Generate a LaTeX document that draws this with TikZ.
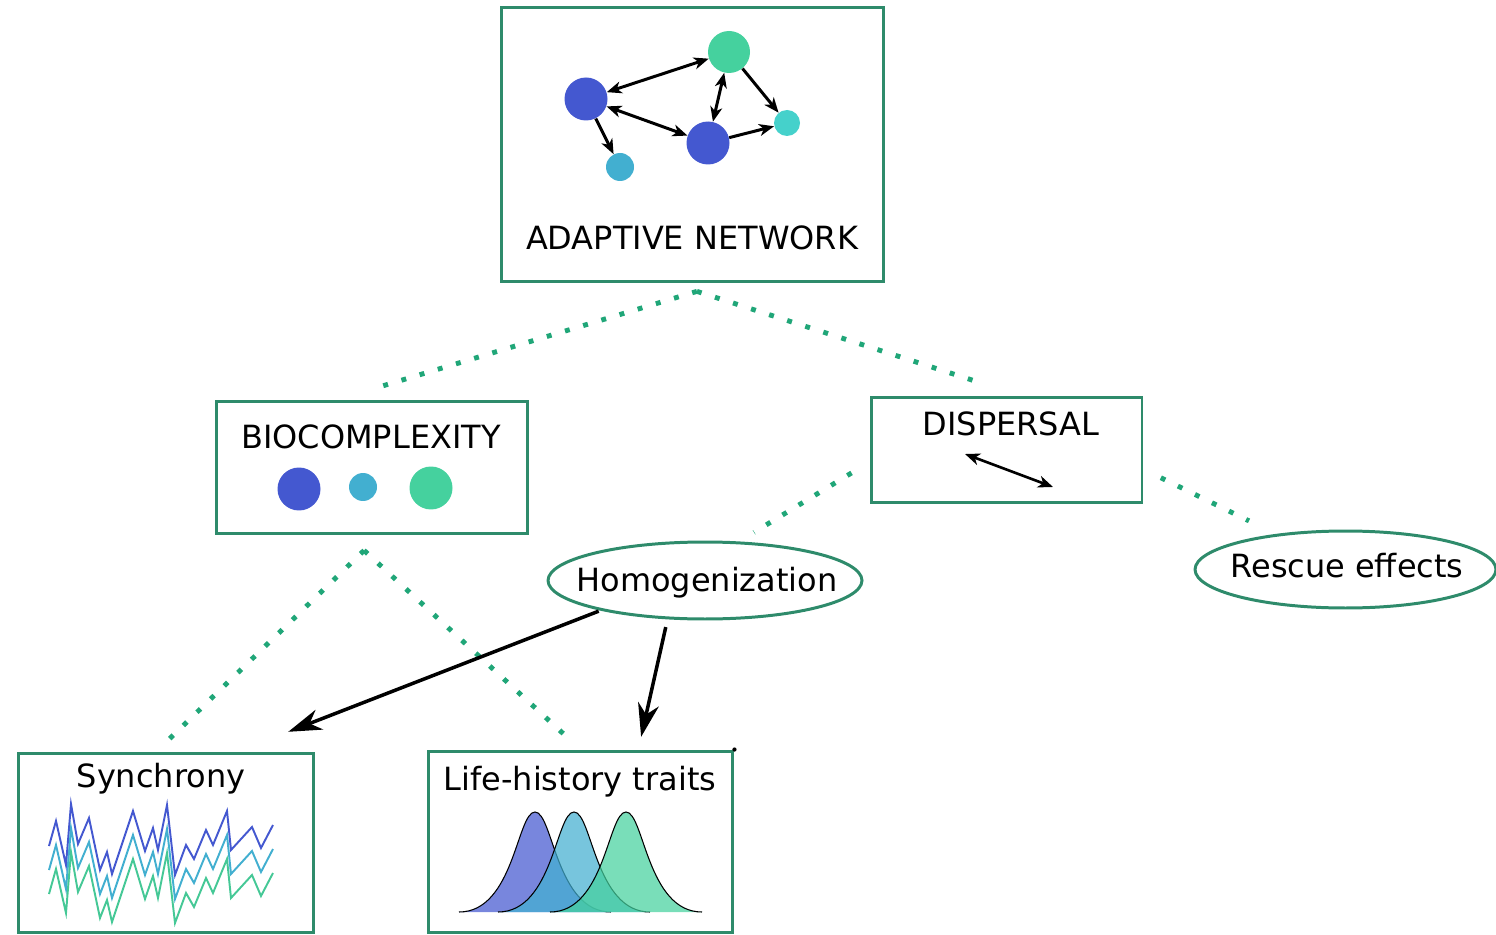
\documentclass[tikz,border=0pt]{standalone}
\usepackage{fontspec}
\setmainfont{DejaVu Sans}
\usetikzlibrary{arrows.meta,shapes.geometric}
\tikzset{>={Stealth[length=8.5pt,width=6.8pt,inset=2.5pt]}}
\definecolor{framegreen}{RGB}{46,139,107}
\definecolor{dotgreen}{RGB}{32,166,120}
\definecolor{netblue}{RGB}{68,88,208}
\definecolor{netgreen}{RGB}{69,209,158}
\definecolor{netteal}{RGB}{69,209,203}
\definecolor{netlblue}{RGB}{66,175,208}
\definecolor{syncgreen}{RGB}{69,200,150}

\begin{document}
\begin{tikzpicture}[x=0.02cm,y=-0.02cm,
    box/.style={draw=framegreen, line width=1.7pt, inner sep=0pt},
    oval/.style={ellipse, draw=framegreen, line width=1.7pt, inner sep=0pt, minimum height=1.54cm},
    lbl/.style={font=\fontsize{18.2}{22}\selectfont, anchor=base, inner sep=0pt},
    blob/.style={circle, inner sep=0pt},
    link/.style={draw=dotgreen, line width=2.8pt, dash pattern=on 2.8pt off 8pt},
    netarrow/.style={line width=1.7pt},
    bigarrow/.style={-{Stealth[length=19pt,width=12pt,inset=6pt]}, line width=2pt}]
  \useasboundingbox (0,0) rectangle (1496,935);

  % boxes and ovals
  \node[box, minimum width=7.66cm, minimum height=5.5cm] (adaptive) at (692.5,144.5) {};
  \node[box, minimum width=6.24cm, minimum height=2.66cm] (biocomplex) at (372,467.5) {};
  \node[box, minimum width=5.42cm, minimum height=2.12cm] (dispersal) at (1006.5,450) {};
  \node[box, minimum width=5.92cm, minimum height=3.6cm] (synchrony) at (166,843) {};
  \node[box, minimum width=6.1cm, minimum height=3.64cm] (lifehist) at (580.5,842) {};
  \node[oval, minimum width=6.28cm] (homog) at (705,580.5) {};
  \node[oval, minimum width=6.02cm] (rescue) at (1345.5,569.5) {};

  % labels
  \node[lbl] (adaptivetxt) at (692,250) {ADAPTIVE NETWORK};
  \node[lbl] (biotxt) at (371,448) {BIOCOMPLEXITY};
  \node[lbl] (disptxt) at (1011,435) {DISPERSAL};
  \node[lbl] (homogtxt) at (707,591) {Homogenization};
  \node[lbl] (rescuetxt) at (1347,577) {Rescue effects};
  \node[lbl] (synctxt) at (161,787) {Synchrony};
  \node[lbl] (lifetxt) at (580,790) {Life-history traits};

  % network
  \node[blob, fill=netgreen, minimum size=0.84cm] (G) at (729,52) {};
  \node[blob, fill=netblue, minimum size=0.86cm] (L) at (586,99) {};
  \node[blob, fill=netblue, minimum size=0.86cm] (B) at (708,143) {};
  \node[blob, fill=netteal, minimum size=0.52cm] (T) at (787,123) {};
  \node[blob, fill=netlblue, minimum size=0.56cm] (S) at (620,167) {};
  \draw[<->, netarrow] (L) -- (G);
  \draw[<->, netarrow] (L) -- (B);
  \draw[<->, netarrow] (G) -- (B);
  \draw[->, netarrow] (G) -- (T);
  \draw[->, netarrow] (B) -- (T);
  \draw[->, netarrow] (L) -- (S);

  % biocomplexity
  \node[blob, fill=netblue, minimum size=0.86cm] (bioA) at (299,489) {};
  \node[blob, fill=netlblue, minimum size=0.56cm] (bioB) at (363,487) {};
  \node[blob, fill=netgreen, minimum size=0.86cm] (bioC) at (431,488) {};

  % dispersal
  \coordinate (dispL) at (965,454);
  \coordinate (dispR) at (1053,487);
  \draw[<->, line width=1.5pt] (dispL) -- (dispR);

  % synchrony
  \foreach \col/\dy in {netblue/0, netlblue/24, syncgreen/48}
    \draw[\col, line width=1.1pt, shift={(0,\dy)}] plot coordinates {(49,846) (56,821) (66,865) (71,804) (78,844) (89,818) (100,870) (107,852) (112,874) (133,811) (145,851) (153,828) (158,850) (167,805) (175,875) (186,845) (194,859) (206,830) (213,845) (227,811) (231,850) (252,827) (261,848) (273,825)};

  % life-history traits
  \foreach \col/\mu in {netblue/535, netlblue/574, netgreen/626}
    \filldraw[fill=\col, fill opacity=0.72, draw=black, line width=0.6pt]
      (\mu-76,912) .. controls (\mu-21,912) and (\mu-18,812) .. (\mu,812)
      .. controls (\mu+18,812) and (\mu+21,912) .. (\mu+76,912);
  \fill (lifehist.north east) circle (1.2pt);

  % dotted links
  \draw[link, shorten >=27pt] ([xshift=2.5pt,yshift=-4.5pt]adaptive.south) -- (biocomplex.117);
  \draw[link, shorten >=25pt] ([xshift=2.5pt,yshift=-4.5pt]adaptive.south) -- (dispersal.76);
  \draw[link, shorten <=12pt, shorten >=10pt] (dispersal.185) -- (homog.49);
  \draw[link, shorten <=11pt, shorten >=17pt] (dispersal.352) -- (rescue.153);
  \draw[link, shorten >=9pt] ([xshift=-4.5pt,yshift=-8.5pt]biocomplex.south) -- (synchrony.96);
  \draw[link, shorten >=13pt] ([xshift=-4.5pt,yshift=-8.5pt]biocomplex.south) -- (lifehist.north);

  % arrows
  \draw[bigarrow, shorten <=1pt, shorten >=31pt] (homog.196) -- (synchrony.52);
  \draw[bigarrow, shorten <=4.5pt, shorten >=7.4pt] (homog.226) -- (lifehist.58);
\end{tikzpicture}
\end{document}
